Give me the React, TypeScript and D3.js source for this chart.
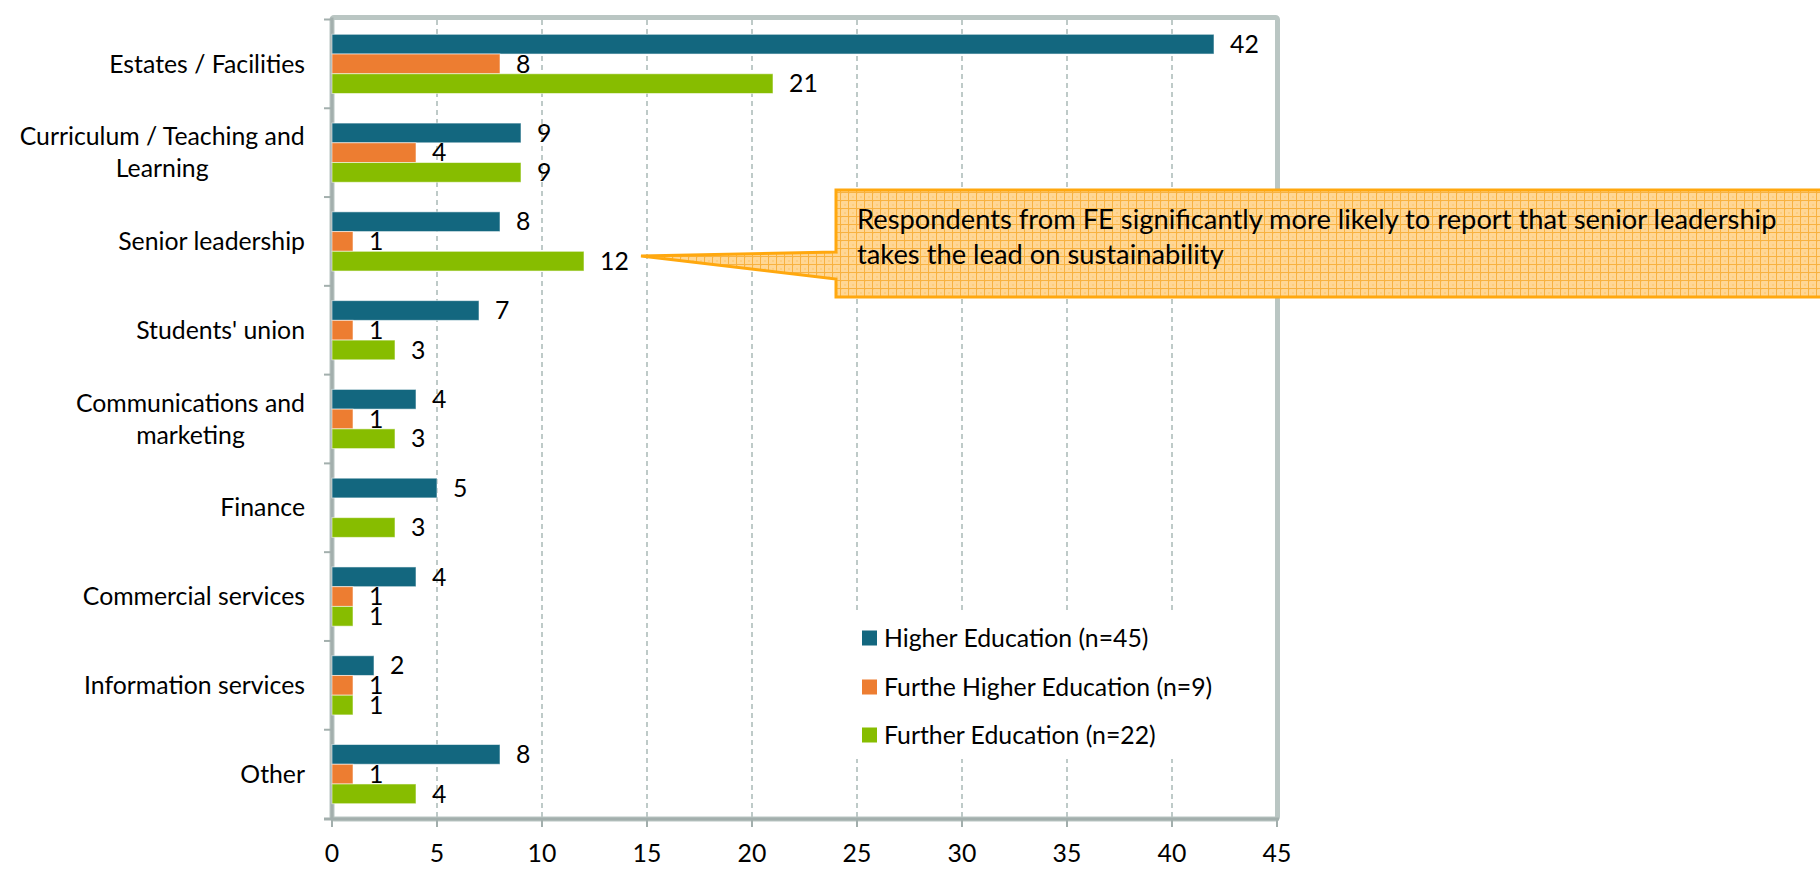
import React from "react";
import * as d3 from "d3";

const categories = [
  "Estates / Facilities",
  "Curriculum / Teaching and Learning",
  "Senior leadership",
  "Students' union",
  "Communications and marketing",
  "Finance",
  "Commercial services",
  "Information services",
  "Other",
];
const categoryLines: string[][] = [
  ["Estates / Facilities"],
  ["Curriculum / Teaching and", "Learning"],
  ["Senior leadership"],
  ["Students' union"],
  ["Communications and", "marketing"],
  ["Finance"],
  ["Commercial services"],
  ["Information services"],
  ["Other"],
];
const seriesNames = [
  "Higher Education (n=45)",
  "Furthe Higher Education (n=9)",
  "Further Education (n=22)",
];
const higherEducation = [42, 9, 8, 7, 4, 5, 4, 2, 8];
const furtherHigherEducation: (number | null)[] = [8, 4, 1, 1, 1, null, 1, 1, 1];
const furtherEducation = [21, 9, 12, 3, 3, 3, 1, 1, 4];
const xTicks = [0, 5, 10, 15, 20, 25, 30, 35, 40, 45];
const seriesColors = ["#13677F", "#ED7D31", "#87BD00"];
const calloutLines = [
  "Respondents from FE significantly more likely to report that senior leadership",
  "takes the lead on sustainability",
];

const FONT = "Lato, 'Open Sans', sans-serif";
const FS = 24.8;
const CFS = 27.3;

export default function App() {
  const W = 1820;
  const H = 869;
  const x = d3.scaleLinear().domain([0, 45]).range([332, 1277]);
  const y = d3.scaleBand().domain(categories).range([19.5, 818.5]).paddingInner(0).paddingOuter(0);
  const bw = y.bandwidth();
  const group = bw / 1.5;
  const inner = d3
    .scaleBand()
    .domain(seriesNames)
    .range([(bw - group) / 2, (bw + group) / 2]);
  const series = [higherEducation, furtherHigherEducation, furtherEducation];

  const ctx = typeof document !== "undefined" ? document.createElement("canvas").getContext("2d") : null;
  if (ctx) ctx.font = `${FS}px Lato`;
  const measure = (s: string) => (ctx ? ctx.measureText(s).width : s.length * 11);

  const plotTop = 17.5;
  const plotBottom = 819;
  const labelRight = 305;
  const lineH = 32;

  const legendRows = [638, 687, 735];
  const tip = { x: x(12) + 57, y: 256 };
  const calloutPath = `M836,190 H1840 V297 H836 V279 L${tip.x},${tip.y} L836,252 Z`;

  return (
    <svg
      width={W}
      height={H}
      style={{ position: "absolute", left: 0, top: 0, background: "#fff" }}
      fontFamily={FONT}
    >
      <defs>
        <pattern id="grid" width="8" height="8" patternUnits="userSpaceOnUse">
          <rect width="8" height="8" fill="#FFD795" />
          <rect x="0" y="0" width="2" height="2" fill="#FCC870" opacity="0.6" />
          <rect x="4" y="4" width="2" height="2" fill="#FCC870" opacity="0.6" />
          <path d="M0,0.5 H8 M0.5,0 V8" stroke="#F8B240" strokeWidth="1" />
        </pattern>
      </defs>

      {/* gridlines */}
      {xTicks.slice(1, -1).map((t) => (
        <line
          key={"g" + t}
          x1={x(t)}
          x2={x(t)}
          y1={20}
          y2={817}
          stroke="#A9B9B7"
          strokeWidth={1.5}
          strokeDasharray="5,4"
        />
      ))}

      {/* legend background */}
      <rect x={850} y={612} width={372} height={147} fill="#fff" />

      {/* plot border */}
      <rect
        x={332}
        y={plotTop}
        width={1277.5 - 332}
        height={plotBottom - plotTop}
        fill="none"
        stroke="#BAC6C3"
        strokeWidth={5}
        rx={2}
      />
      {/* axes */}
      <line x1={332} x2={332} y1={plotTop} y2={plotBottom} stroke="#A3AFAD" strokeWidth={3} />
      <line x1={324} x2={1279} y1={plotBottom} y2={plotBottom} stroke="#A3AFAD" strokeWidth={3} />
      {categories.map((c, i) => (
        <line
          key={"yt" + i}
          x1={324}
          x2={332}
          y1={(y(c) as number)}
          y2={(y(c) as number)}
          stroke="#A3AFAD"
          strokeWidth={2}
        />
      ))}
      {xTicks.map((t) => (
        <line key={"xt" + t} x1={x(t)} x2={x(t)} y1={plotBottom} y2={plotBottom + 8} stroke="#A3AFAD" strokeWidth={2} />
      ))}
      {xTicks.map((t) => (
        <text key={"xl" + t} x={x(t)} y={862} textAnchor="middle" fontSize={FS} fill="#000">
          {t}
        </text>
      ))}

      {/* category labels */}
      {categories.map((c, i) => {
        const lines = categoryLines[i];
        const cy = (y(c) as number) + bw / 2;
        const maxW = Math.max(...lines.map(measure));
        const cx = labelRight - maxW / 2;
        const startY = cy - ((lines.length - 1) * lineH) / 2;
        return lines.map((ln, j) => (
          <text
            key={"cl" + i + "_" + j}
            x={lines.length > 1 ? cx : labelRight}
            y={startY + j * lineH}
            dy="0.35em"
            textAnchor={lines.length > 1 ? "middle" : "end"}
            fontSize={FS}
            fill="#000"
          >
            {ln}
          </text>
        ));
      })}

      {/* bars */}
      {series.map((vals, si) =>
        vals.map((v, i) => {
          if (v == null) return null;
          const by = (y(categories[i]) as number) + (inner(seriesNames[si]) as number);
          const bh = inner.bandwidth();
          return (
            <g key={"b" + si + "_" + i}>
              <rect
                x={x(0)}
                y={by}
                width={x(v) - x(0)}
                height={bh}
                fill={seriesColors[si]}
                stroke="rgba(255,255,255,0.55)"
                strokeWidth={1}
              />
              <text x={x(v) + 16} y={by + bh / 2} dy="0.35em" fontSize={FS} fill="#000">
                {v}
              </text>
            </g>
          );
        })
      )}

      {/* legend */}
      {seriesNames.map((s, i) => (
        <g key={"lg" + i}>
          <rect x={862} y={legendRows[i] - 7.5} width={15} height={15} fill={seriesColors[i]} />
          <text x={884} y={legendRows[i]} dy="0.35em" fontSize={FS} fill="#000">
            {s}
          </text>
        </g>
      ))}

      {/* callout */}
      <path d={calloutPath} fill="url(#grid)" stroke="#FFA80F" strokeWidth={3} strokeLinejoin="miter" />
      {calloutLines.map((l, i) => (
        <text key={"co" + i} x={857} y={229 + i * 35} fontSize={CFS} fill="#000">
          {l}
        </text>
      ))}
    </svg>
  );
}
